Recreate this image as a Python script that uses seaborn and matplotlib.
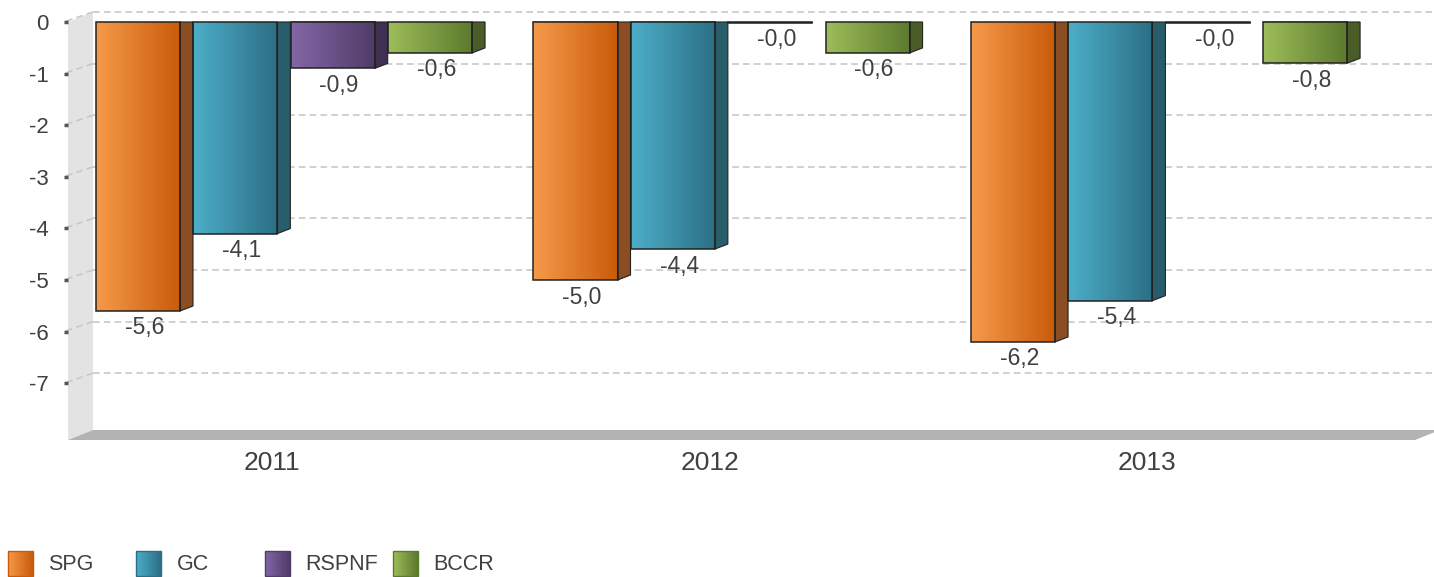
import numpy as np
import pandas as pd
import matplotlib
matplotlib.use('Agg')
import matplotlib.pyplot as plt
import matplotlib.transforms as mtransforms
from matplotlib.patches import Polygon, Rectangle
from matplotlib.colors import to_rgb
import seaborn as sns

# data
years = ['2011', '2012', '2013']
series = ['SPG', 'GC', 'RSPNF', 'BCCR']
spg = [-5.6, -5.0, -6.2]
gc = [-4.1, -4.4, -5.4]
rspnf = [-0.9, -0.01, -0.01]
bccr = [-0.6, -0.6, -0.8]
yticks = [0, -1, -2, -3, -4, -5, -6, -7]

# gradient colours (left, right) and the colour of the bar side
light = {'SPG': '#F59A4A', 'GC': '#4DAEC8', 'RSPNF': '#8466A6', 'BCCR': '#9DBD59'}
dark = {'SPG': '#C95B0A', 'GC': '#2B6F85', 'RSPNF': '#4F3C68', 'BCCR': '#5C7A2D'}
side = {'SPG': '#8A4E22', 'GC': '#285E6B', 'RSPNF': '#3E3052', 'BCCR': '#4A5D27'}

df = pd.DataFrame({
    'year': years * 4,
    'series': np.repeat(series, len(years)),
    'value': spg + gc + rspnf + bccr,
})

sns.set_style('white')
plt.rcParams['font.family'] = ['Liberation Sans', 'DejaVu Sans']
TXT = '#404040'
W, H = 1434, 577
DX, DY = 25, 10   # depth of the back wall, pixels
BX, BY = 13, 5    # depth of a bar, pixels


def gradient(c1, c2, n=64):
    t = np.linspace(0, 1, n)[:, None]
    rgb = (1 - t) * np.array(to_rgb(c1)) + t * np.array(to_rgb(c2))
    return rgb[None, :, :]


fig = plt.figure(figsize=(W / 100, H / 100), dpi=100)
bg = fig.add_axes([0, 0, 1, 1], zorder=0)
bg.axis('off')
ax = fig.add_axes([68 / W, 137 / H, 1347 / W, 440 / H], zorder=1)
ax.patch.set_alpha(0)

sns.barplot(data=df, x='year', y='value', hue='series', hue_order=series,
            palette=[dark[s] for s in series], width=0.89, gap=0.137,
            saturation=1, errorbar=None, legend=False, linewidth=0, ax=ax)

XL = (-0.4937, 2.585)
YL = (-8.10, 0.426)
ax.set_xlim(*XL)
ax.set_ylim(*YL)


def disp(x, y):
    return ax.transData.transform((x, y))


# back wall, floor and grid (drawn in pixel space on the background axes)
bg.set_xlim(0, W)
bg.set_ylim(0, H)
x0, x1 = XL
y0 = YL[0]
a, b = disp(x0, 0), disp(x0, y0)
bg.add_patch(Polygon([a, b, b + (DX, DY), a + (DX, DY)], closed=True,
                     fc='#E3E3E3', lw=0, zorder=1))
c = disp(x1, y0)
bg.add_patch(Polygon([b, c, c + (DX, DY), b + (DX, DY)], closed=True,
                     fc='#B3B3B3', lw=0, zorder=2))
for v in yticks:
    p = disp(x0, v)
    bg.plot([p[0] - 2, p[0] + DX], [p[1] + 0.8, p[1] + DY], ls=(0, (4, 2.5)),
            color='#C8C8C8', lw=1.2, zorder=3)
    bg.plot([p[0] + DX, W], [p[1] + DY, p[1] + DY], ls=(0, (4, 2.5)),
            color='#C8C8C8', lw=1.2, zorder=3)

# gradient faces, 3d sides and value labels
ident = mtransforms.IdentityTransform()
for cont, name in zip(ax.containers, series):
    for bar in cont:
        bx, by = bar.get_x(), bar.get_y()
        bw, bh = bar.get_width(), bar.get_height()
        val = by + bh
        ax.imshow(gradient(light[name], dark[name]), extent=(bx, bx + bw, val, by),
                  aspect='auto', interpolation='bilinear', zorder=2)
        ax.add_patch(Rectangle((bx, by), bw, bh, fill=False, ec='#222222',
                               lw=1.1, zorder=3))
        pt, pb = disp(bx + bw, 0), disp(bx + bw, val)
        if pt[1] - pb[1] > BY:
            ax.add_patch(Polygon([pt, pb, pb + (BX, BY), (pt[0] + BX, pt[1])],
                                 closed=True, fc=side[name], ec='#222222', lw=0.8,
                                 transform=ident, clip_on=False, zorder=2.5))
        label = f'{val:.1f}'.replace('.', ',')
        ax.annotate(label, xy=(bx + bw / 2, val), xytext=(BX / 2, -17),
                    textcoords='offset pixels', ha='center', va='center',
                    fontsize=16.5, color=TXT, zorder=4)

ax.set_xlim(*XL)
ax.set_ylim(*YL)
ax.grid(False)
for s in ax.spines.values():
    s.set_visible(False)
ax.set_xlabel('')
ax.set_ylabel('')
ax.set_yticks(yticks)
ax.set_yticklabels([str(v) for v in yticks])
ax.tick_params(axis='y', left=True, length=3, width=2.5, color='#555555',
               pad=11, labelsize=16, labelcolor=TXT)
ax.tick_params(axis='x', bottom=False, length=0, pad=8, labelsize=19,
               labelcolor=TXT)
shift = mtransforms.ScaledTranslation(-12 / 100, 0, fig.dpi_scale_trans)
for lab in ax.get_xticklabels():
    lab.set_transform(lab.get_transform() + shift)

# legend along the bottom edge
for k, name in enumerate(series):
    lx = 8 + k * 128.4
    bg.imshow(gradient(light[name], dark[name]), extent=(lx, lx + 25, 1, 26),
              aspect='auto', interpolation='bilinear', zorder=4)
    bg.add_patch(Rectangle((lx, 1), 25, 25, fill=False, ec=dark[name], lw=1, zorder=5))
    bg.text(lx + 40, 12, name, fontsize=15.5, color=TXT, va='center', ha='left')
bg.set_xlim(0, W)
bg.set_ylim(0, H)

fig.savefig('out.png', dpi=100)
